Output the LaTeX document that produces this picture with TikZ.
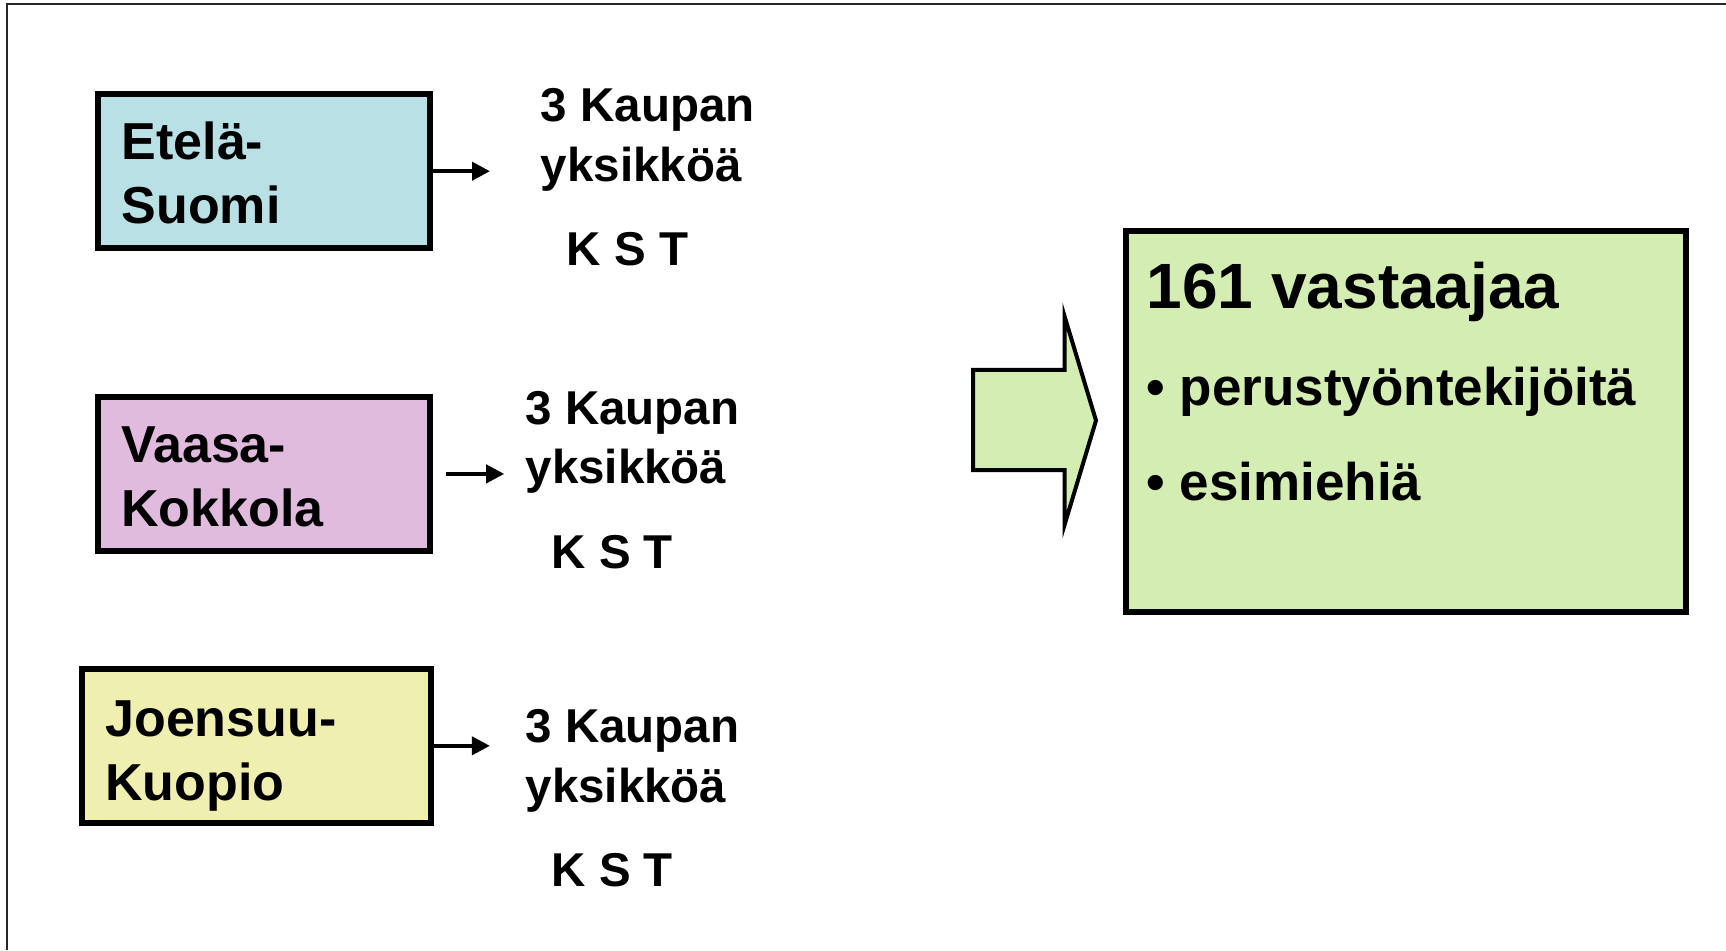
\documentclass[tikz,border=0pt]{standalone}
\usepackage{fontspec}
\setmainfont{Liberation Sans}
\usetikzlibrary{arrows.meta}
\definecolor{cyanbox}{RGB}{185,224,228}
\definecolor{pinkbox}{RGB}{225,187,222}
\definecolor{yellowbox}{RGB}{239,239,176}
\definecolor{greenbox}{RGB}{212,237,178}
\begin{document}
\begin{tikzpicture}[x=0.5pt,y=-0.5pt,
  region/.style={draw=black, line width=3pt, inner sep=0pt},
  boxtxt/.style={inner sep=0pt, anchor=base west, align=left, font=\bfseries\fontsize{26}{32}\selectfont},
  midtxt/.style={inner sep=0pt, anchor=base west, align=left, font=\bfseries\fontsize{23.75}{29.8}\selectfont},
  restitle/.style={inner sep=0pt, anchor=base west, font=\bfseries\fontsize{32}{38}\selectfont},
  resitem/.style={inner sep=0pt, anchor=base west, font=\bfseries\fontsize{26.5}{32}\selectfont},
  link/.style={line width=2pt, -{Triangle[length=9pt,width=9pt]}},
  bigarrow/.style={draw=black, line width=2pt, fill=greenbox, line join=miter},
]
\useasboundingbox (0,0) rectangle (1726,950);
\fill[white] (0,0) rectangle (1726,950);
\draw[line width=1pt, black!85] (6.6,950) -- (6.6,4.4) -- (1726,4.4);

% region boxes
\node[region, fill=cyanbox, minimum width=165.95pt, minimum height=76.8pt] (b1) at (263.6,171.2) {};
\node[region, fill=pinkbox, minimum width=165.95pt, minimum height=76.8pt] (b2) at (263.6,473.9) {};
\node[region, fill=yellowbox, minimum width=174.2pt, minimum height=76.8pt] (b3) at (256.5,745.8) {};

\node[boxtxt] (t1) at (121.3,223.6) {Etelä-\\Suomi};
\node[boxtxt] (t2) at (121,526.2) {Vaasa-\\Kokkola};
\node[boxtxt] (t3) at (105,800.3) {Joensuu-\\Kuopio};

% unit texts
\node[midtxt] (m1) at (540.5,181.2) {3 Kaupan\\yksikköä};
\node[midtxt] (k1) at (566.5,265.8) {K S T};
\node[midtxt] (m2) at (525.2,483.9) {3 Kaupan\\yksikköä};
\node[midtxt] (k2) at (551.2,568.5) {K S T};
\node[midtxt] (m3) at (525.2,802) {3 Kaupan\\yksikköä};
\node[midtxt] (k3) at (551.2,886.6) {K S T};

% small arrows
\coordinate (a1) at (490,171.2);
\coordinate (a2) at (504.2,473.9);
\coordinate (a3) at (489.9,745.8);
\draw[link] (b1.east) -- (a1);
\draw[link] ([xshift=6.6pt]b2.east) -- (a2);
\draw[link] (b3.east) -- (a3);

% big arrow
\draw[bigarrow] (973.1,369.9) -- (1064.5,369.9) -- (1064.5,316) -- (1096,420.5)
  -- (1064.5,525) -- (1064.5,470) -- (973.1,470) -- cycle;

% result box
\node[region, fill=greenbox, minimum width=279.9pt, minimum height=190.75pt] (res) at (1405.7,421.55) {};
\node[restitle] (r1) at (1146.4,308) {161 vastaajaa};
\node[resitem] (r2) at (1146.2,405) {• perustyöntekijöitä};
\node[resitem] (r3) at (1146.2,500) {• esimiehiä};
\end{tikzpicture}
\end{document}
